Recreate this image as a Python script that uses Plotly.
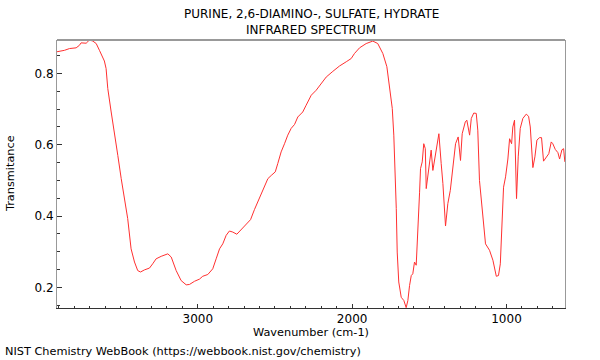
import plotly.graph_objects as go

wavenumber = [3912, 3864, 3831, 3788, 3767, 3756, 3723, 3702, 3680, 3658, 3637, 3616, 3605, 3594,
              3583, 3561, 3540, 3518, 3496, 3475, 3454, 3432, 3410, 3389, 3371, 3345, 3313, 3292,
              3270, 3237, 3194, 3172, 3140, 3108, 3075, 3054, 3021, 2989, 2968, 2935, 2903, 2881,
              2859, 2838, 2816, 2795, 2773, 2747, 2719, 2686, 2658, 2633, 2600, 2579, 2546, 2524,
              2498, 2482, 2460, 2438, 2417, 2395, 2373, 2352, 2320, 2298, 2265, 2233, 2200, 2168,
              2125, 2082, 2038, 2006, 1985, 1952, 1909, 1866, 1834, 1801, 1775, 1758, 1740, 1730,
              1721, 1714, 1708, 1698, 1682, 1665, 1650, 1639, 1628, 1617, 1607, 1596, 1585, 1574,
              1563, 1557, 1546, 1536, 1526, 1520, 1510, 1499, 1488, 1477, 1466, 1451, 1438, 1423,
              1412, 1395, 1380, 1364, 1348, 1330, 1313, 1298, 1287, 1267, 1257, 1239, 1228, 1212,
              1196, 1186, 1175, 1153, 1136, 1110, 1088, 1066, 1052, 1040, 1028, 1019, 1006, 991,
              980, 967, 959, 948, 935, 924, 911, 894, 872, 857, 846, 829, 816, 803, 786, 773, 760,
              742, 726, 710, 700, 684, 667, 656, 641, 630, 622]
transmittance = [0.861, 0.865, 0.870, 0.872, 0.879, 0.886, 0.885, 0.894, 0.891, 0.884, 0.865, 0.842,
                 0.835, 0.814, 0.758, 0.692, 0.636, 0.570, 0.505, 0.449, 0.393, 0.308, 0.271, 0.247,
                 0.243, 0.249, 0.254, 0.266, 0.280, 0.287, 0.294, 0.285, 0.247, 0.219, 0.207, 0.208,
                 0.217, 0.223, 0.231, 0.236, 0.252, 0.280, 0.308, 0.322, 0.346, 0.358, 0.355, 0.349,
                 0.362, 0.380, 0.390, 0.418, 0.451, 0.477, 0.505, 0.514, 0.524, 0.547, 0.580, 0.603,
                 0.627, 0.646, 0.657, 0.678, 0.692, 0.711, 0.739, 0.753, 0.772, 0.790, 0.806, 0.821,
                 0.833, 0.842, 0.856, 0.872, 0.884, 0.891, 0.884, 0.856, 0.819, 0.767, 0.702, 0.627,
                 0.533, 0.421, 0.299, 0.215, 0.172, 0.163, 0.143, 0.163, 0.205, 0.233, 0.238, 0.271,
                 0.262, 0.346, 0.467, 0.533, 0.552, 0.603, 0.589, 0.477, 0.514, 0.561, 0.585, 0.528,
                 0.561, 0.599, 0.631, 0.547, 0.491, 0.372, 0.435, 0.472, 0.528, 0.603, 0.622, 0.556,
                 0.631, 0.664, 0.669, 0.627, 0.674, 0.689, 0.688, 0.641, 0.500, 0.397, 0.322, 0.304,
                 0.276, 0.231, 0.233, 0.266, 0.397, 0.481, 0.510, 0.560, 0.617, 0.603, 0.650, 0.669,
                 0.449, 0.566, 0.646, 0.674, 0.686, 0.680, 0.650, 0.536, 0.566, 0.613, 0.620, 0.620,
                 0.554, 0.566, 0.575, 0.608, 0.603, 0.587, 0.578, 0.560, 0.586, 0.589, 0.552]

x_ticks = [1000, 2000, 3000]
x_ticklabels = ["1000", "2000", "3000"]
y_ticks = [0.2, 0.4, 0.6, 0.8]
y_ticklabels = ["0.2", "0.4", "0.6", "0.8"]

FONT = "DejaVu Sans"

fig = go.Figure()
fig.add_trace(go.Scatter(x=wavenumber, y=transmittance, mode="lines",
                         line=dict(color="#ff3030", width=1), hoverinfo="skip"))

fig.update_layout(
    width=600, height=360,
    margin=dict(l=57, r=35, t=40, b=52),
    paper_bgcolor="white", plot_bgcolor="white",
    showlegend=False,
    font=dict(family=FONT, size=12, color="black"),
    xaxis=dict(range=[3912, 621], tickvals=x_ticks, ticktext=x_ticklabels,
               ticks="inside", ticklen=4, tickcolor="#333", showgrid=False, zeroline=False,
               showline=True, linecolor="#333", linewidth=1,
               minor=dict(dtick=100, tick0=0, ticks="inside", ticklen=2, tickcolor="#333")),
    yaxis=dict(range=[0.142, 0.894], tickvals=y_ticks, ticktext=y_ticklabels,
               ticks="inside", ticklen=5, tickcolor="#333", showgrid=False, zeroline=False,
               showline=True, linecolor="#999", linewidth=1, mirror=True,
               minor=dict(dtick=0.05, tick0=0, ticks="inside", ticklen=3, tickcolor="#333")),
    shapes=[dict(type="line", xref="paper", yref="paper", x0=0, x1=1, y0=1, y1=1,
                 line=dict(color="#999", width=2))],
    annotations=[
        dict(text="PURINE, 2,6-DIAMINO-, SULFATE, HYDRATE", xref="paper", yref="paper",
             x=0.5, y=1.097, xanchor="center", yanchor="middle", showarrow=False,
             font=dict(family=FONT, size=12)),
        dict(text="INFRARED SPECTRUM", xref="paper", yref="paper",
             x=0.5, y=1.037, xanchor="center", yanchor="middle", showarrow=False,
             font=dict(family=FONT, size=12)),
        dict(text="Wavenumber (cm-1)", xref="paper", yref="paper",
             x=0.5, y=-0.093, xanchor="center", yanchor="middle", showarrow=False,
             font=dict(family=FONT, size=11.3)),
        dict(text="Transmitance", xref="paper", yref="paper", textangle=-90,
             x=-0.0925, y=0.5, xanchor="center", yanchor="middle", showarrow=False,
             font=dict(family=FONT, size=11.3)),
        dict(text="NIST Chemistry WebBook (https://webbook.nist.gov/chemistry)",
             xref="paper", yref="paper", x=-0.1063, y=-0.164, xanchor="left",
             yanchor="middle", showarrow=False, font=dict(family=FONT, size=11.3)),
    ],
)

fig.write_html("out.html", config={"displayModeBar": False},
               post_script="document.body.style.margin='0';")
